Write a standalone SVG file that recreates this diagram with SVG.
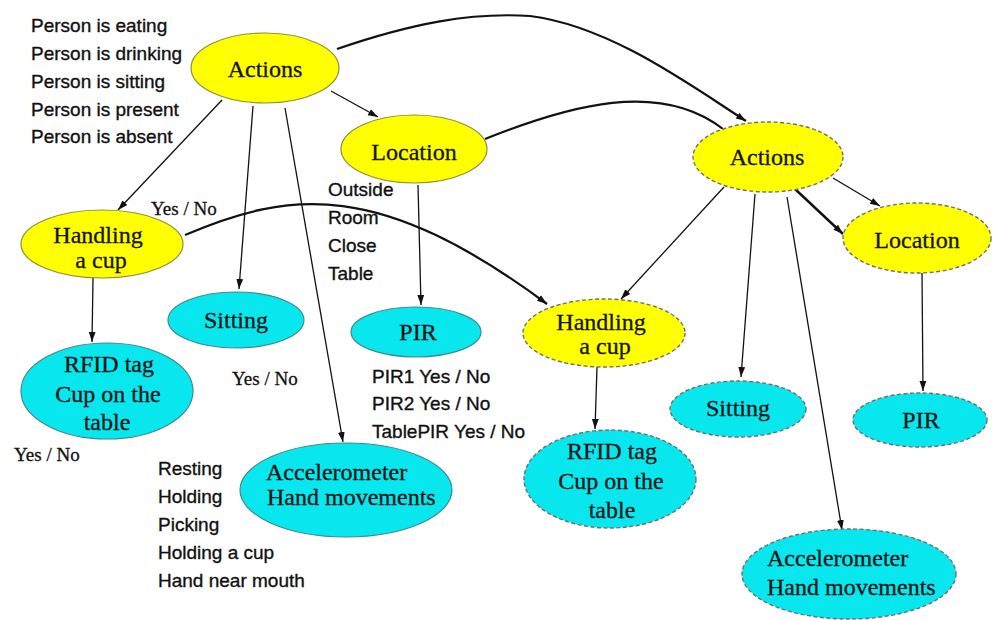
<svg xmlns="http://www.w3.org/2000/svg" width="993" height="620" viewBox="0 0 993 620">
  <defs>
    <marker id="ah" viewBox="0 0 10 10" refX="10" refY="5" markerWidth="10" markerHeight="10" markerUnits="userSpaceOnUse" orient="auto">
      <path d="M0,1.6 L10,5 L0,8.4 z" fill="#111"/>
    </marker>
    <style>
      .ny { fill:#ffff00; stroke:#8f8f3a; stroke-width:1.2 }
      .nc { fill:#08e6ee; stroke:#3f8a8f; stroke-width:1.2 }
      .dash { stroke:#6f6f6f; stroke-width:1.4; stroke-dasharray:4 2.5 }
      .lbl { font-family:"Liberation Serif","Times New Roman",serif; font-size:24px; fill:#141414; stroke:#141414; stroke-width:0.3; text-anchor:middle }
      .lft { text-anchor:start }
      .note { font-family:"Liberation Sans",Arial,sans-serif; font-size:19px; fill:#111; stroke:#111; stroke-width:0.35 }
      .yn { font-family:"Liberation Serif","Times New Roman",serif; font-size:19px; fill:#111; stroke:#111; stroke-width:0.3 }
      .edge { fill:none; stroke:#111; stroke-width:1.3; marker-end:url(#ah) }
      .curve { stroke-width:2.2 }
      .thick { stroke-width:2.4 }
    </style>
  </defs>
  <rect width="993" height="620" fill="#ffffff"/>

  <!-- connectors -->
  <g id="connectors">
    <path class="edge" d="M222,100 L118,210"/>
    <path class="edge" d="M253,106 L239,289"/>
    <path class="edge" d="M285,108 L343,442"/>
    <path class="edge" d="M331,91 L378,117"/>
    <path class="edge curve" d="M337,49 C410,24 470,12 530,16 C610,26 690,85 746,121"/>
    <path class="edge curve" d="M485,139 C570,105 660,80 723,129" style="marker-end:none"/>
    <path class="edge curve" d="M185,235 C290,190 380,180 547,304"/>
    <path class="edge" d="M418,185 L421,305"/>
    <path class="edge" d="M93,278 L92,342"/>
    <path class="edge" d="M724,187 L621,299"/>
    <path class="edge" d="M755,194 L741,377"/>
    <path class="edge" d="M787,197 L842,530"/>
    <path class="edge thick" d="M795,189 L843,234"/>
    <path class="edge" d="M833,178 L880,206"/>
    <path class="edge" d="M922,273 L923,391"/>
    <path class="edge" d="M597,367 L595,429"/>
  </g>

  <!-- first time slice -->
  <g id="actions-1">
    <ellipse class="ny" cx="265" cy="68" rx="74" ry="35"/>
    <text class="lbl" x="265" y="77">Actions</text>
  </g>
  <g id="location-1">
    <ellipse class="ny" cx="414" cy="149" rx="73" ry="34"/>
    <text class="lbl" x="414" y="160">Location</text>
  </g>
  <g id="handling-1">
    <ellipse class="ny" cx="102" cy="244" rx="81" ry="34"/>
    <text class="lbl" x="98" y="243">Handling</text>
    <text class="lbl" x="101" y="268">a cup</text>
  </g>
  <g id="sitting-1">
    <ellipse class="nc" cx="236" cy="320" rx="68" ry="28"/>
    <text class="lbl" x="236" y="328">Sitting</text>
  </g>
  <g id="rfid-1">
    <ellipse class="nc" cx="107" cy="391" rx="86" ry="48"/>
    <text class="lbl" x="109" y="372">RFID tag</text>
    <text class="lbl" x="108" y="402">Cup on the</text>
    <text class="lbl" x="107" y="430">table</text>
  </g>
  <g id="pir-1">
    <ellipse class="nc" cx="416" cy="332" rx="65" ry="25"/>
    <text class="lbl" x="418" y="340">PIR</text>
  </g>
  <g id="accel-1">
    <ellipse class="nc" cx="346" cy="490" rx="106" ry="47"/>
    <text class="lbl lft" x="266" y="480">Accelerometer</text>
    <text class="lbl lft" x="267" y="505">Hand movements</text>
  </g>

  <!-- second time slice -->
  <g id="actions-2">
    <ellipse class="ny dash" cx="768" cy="157" rx="75" ry="35"/>
    <text class="lbl" x="767" y="165">Actions</text>
  </g>
  <g id="location-2">
    <ellipse class="ny dash" cx="917" cy="238" rx="74" ry="35"/>
    <text class="lbl" x="917" y="248">Location</text>
  </g>
  <g id="handling-2">
    <ellipse class="ny dash" cx="604" cy="333" rx="81" ry="34"/>
    <text class="lbl" x="601" y="330">Handling</text>
    <text class="lbl" x="605" y="354">a cup</text>
  </g>
  <g id="sitting-2">
    <ellipse class="nc dash" cx="738" cy="409" rx="68" ry="28"/>
    <text class="lbl" x="738" y="416">Sitting</text>
  </g>
  <g id="pir-2">
    <ellipse class="nc dash" cx="920" cy="420" rx="67" ry="27"/>
    <text class="lbl" x="921" y="428">PIR</text>
  </g>
  <g id="rfid-2">
    <ellipse class="nc dash" cx="610" cy="479" rx="86" ry="49"/>
    <text class="lbl" x="612" y="459">RFID tag</text>
    <text class="lbl" x="611" y="489">Cup on the</text>
    <text class="lbl" x="612" y="518">table</text>
  </g>
  <g id="accel-2">
    <ellipse class="nc dash" cx="849" cy="574" rx="107" ry="45"/>
    <text class="lbl lft" x="767" y="566">Accelerometer</text>
    <text class="lbl lft" x="767" y="595">Hand movements</text>
  </g>

  <!-- state lists -->
  <g id="action-states" class="note">
    <text x="31" y="32">Person is eating</text>
    <text x="31" y="60">Person is drinking</text>
    <text x="31" y="88">Person is sitting</text>
    <text x="31" y="116">Person is present</text>
    <text x="31" y="143">Person is absent</text>
  </g>
  <g id="location-states" class="note">
    <text x="328" y="196">Outside</text>
    <text x="328" y="224">Room</text>
    <text x="328" y="252">Close</text>
    <text x="328" y="280">Table</text>
  </g>
  <g id="pir-states" class="note">
    <text x="372" y="383">PIR1 Yes / No</text>
    <text x="372" y="410">PIR2 Yes / No</text>
    <text x="372" y="438">TablePIR Yes / No</text>
  </g>
  <g id="hand-states" class="note">
    <text x="158" y="475">Resting</text>
    <text x="158" y="503">Holding</text>
    <text x="158" y="531">Picking</text>
    <text x="158" y="559">Holding a cup</text>
    <text x="158" y="587">Hand near mouth</text>
  </g>
  <g id="binary-states" class="yn">
    <text x="151" y="215">Yes / No</text>
    <text x="232" y="385">Yes / No</text>
    <text x="14" y="461">Yes / No</text>
  </g>
</svg>
